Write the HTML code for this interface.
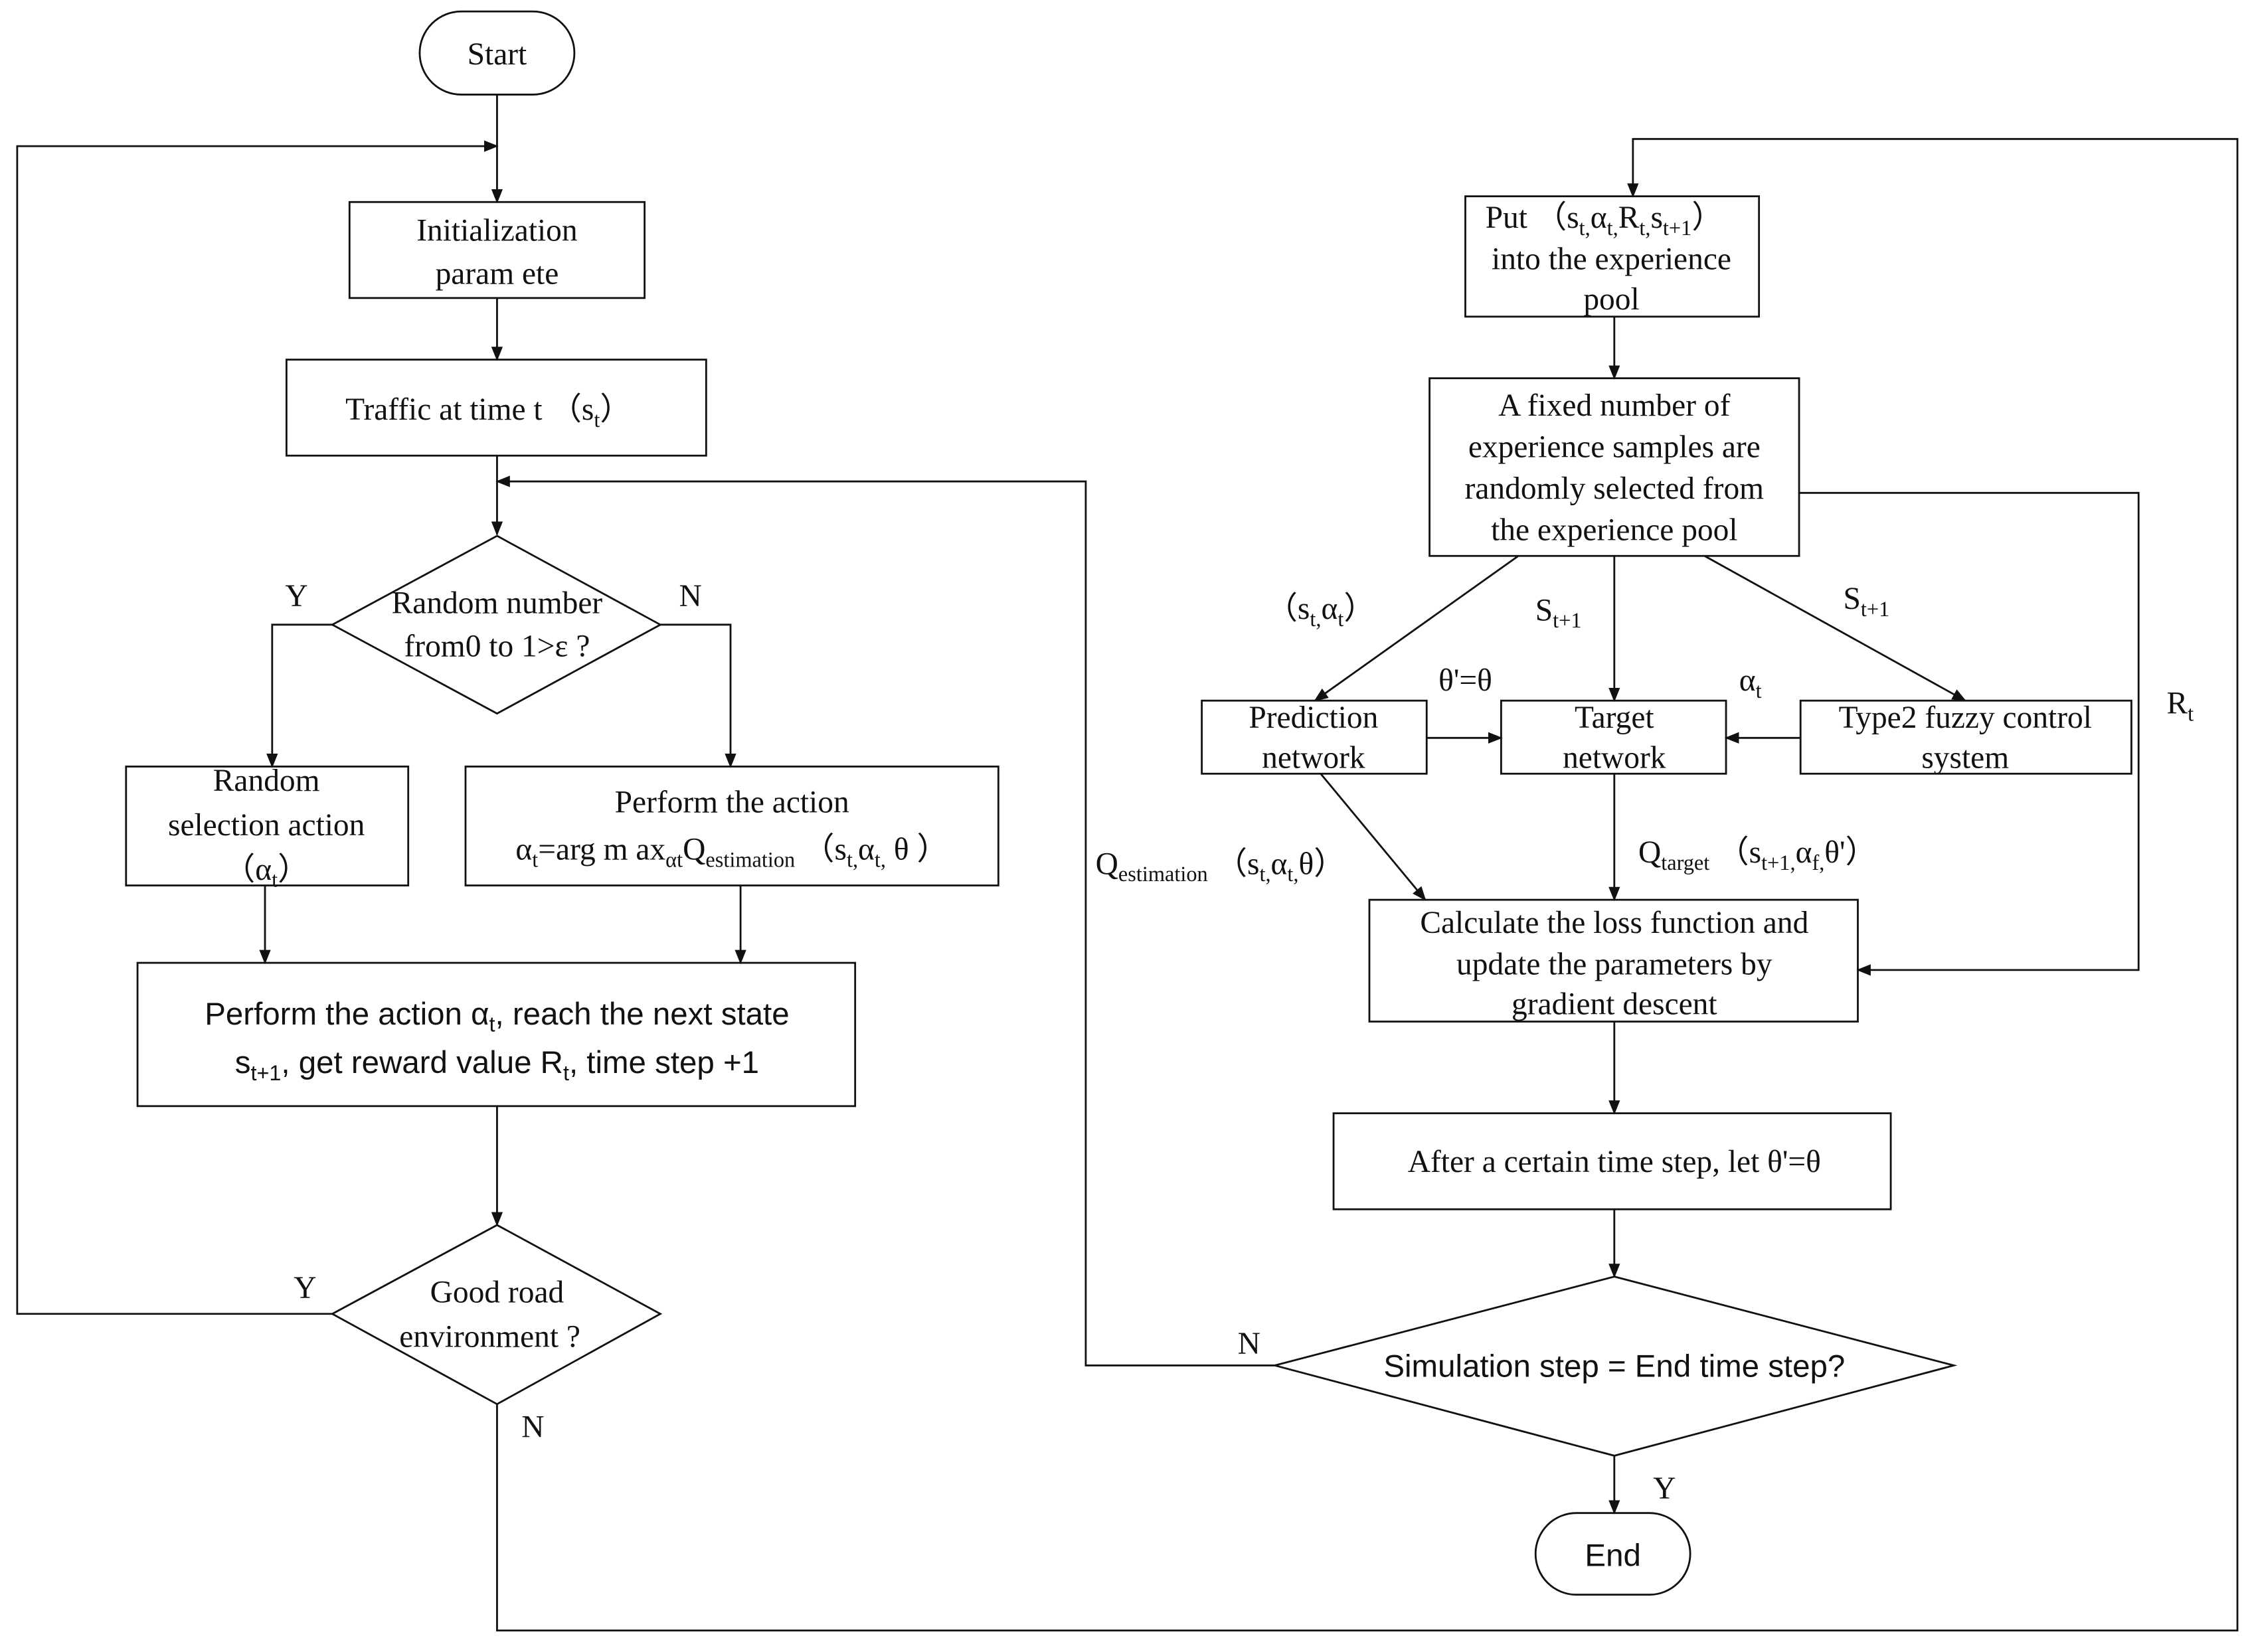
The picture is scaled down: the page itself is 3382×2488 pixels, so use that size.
<!DOCTYPE html>
<html><head><meta charset="utf-8"><style>
html,body{margin:0;padding:0;background:#fff;}
svg{display:block;}
text{font-family:"Liberation Serif",serif;font-size:22px;fill:#111;}
.s{font-family:"Liberation Sans",sans-serif;}
</style></head><body>
<svg width="3382" height="2488" viewBox="0 0 1568 1153" preserveAspectRatio="none" xmlns="http://www.w3.org/2000/svg">
<defs><marker id="a" markerWidth="10" markerHeight="10" refX="9" refY="5" orient="auto" markerUnits="userSpaceOnUse"><path d="M0,1 L10,5 L0,9 Z" fill="#111"/></marker></defs>
<g fill="none" stroke="#111" stroke-width="1.3">
<rect x="293" y="8" width="108" height="58" rx="29"/>
<line x1="347" y1="66" x2="347" y2="141" marker-end="url(#a)"/>
<polyline points="232,917 12,917 12,102 347,102" marker-end="url(#a)"/>
<rect x="244" y="141" width="206" height="67"/>
<line x1="347" y1="208" x2="347" y2="251" marker-end="url(#a)"/>
<rect x="200" y="251" width="293" height="67"/>
<line x1="347" y1="318" x2="347" y2="373" marker-end="url(#a)"/>
<polyline points="890,953 758,953 758,336 347,336" marker-end="url(#a)"/>
<polygon points="347,374 461,436 347,498 232,436"/>
<polyline points="232,436 190,436 190,535" marker-end="url(#a)"/>
<polyline points="461,436 510,436 510,535" marker-end="url(#a)"/>
<rect x="88" y="535" width="197" height="83"/>
<rect x="325" y="535" width="372" height="83"/>
<line x1="185" y1="618" x2="185" y2="672" marker-end="url(#a)"/>
<line x1="517" y1="618" x2="517" y2="672" marker-end="url(#a)"/>
<rect x="96" y="672" width="501" height="100"/>
<line x1="347" y1="772" x2="347" y2="855" marker-end="url(#a)"/>
<polygon points="347,855 461,917 347,980 232,917"/>
<polyline points="347,980 347,1138 1562,1138 1562,97 1140,97 1140,137" marker-end="url(#a)"/>
<rect x="1023" y="137" width="205" height="84"/>
<line x1="1127" y1="221" x2="1127" y2="264" marker-end="url(#a)"/>
<rect x="998" y="264" width="258" height="124"/>
<polyline points="1256,344 1493,344 1493,677 1297,677" marker-end="url(#a)"/>
<line x1="1060" y1="388" x2="918" y2="489" marker-end="url(#a)"/>
<line x1="1127" y1="388" x2="1127" y2="489" marker-end="url(#a)"/>
<line x1="1190" y1="388" x2="1372" y2="489" marker-end="url(#a)"/>
<rect x="839" y="489" width="157" height="51"/>
<rect x="1048" y="489" width="157" height="51"/>
<rect x="1257" y="489" width="231" height="51"/>
<line x1="996" y1="515" x2="1048" y2="515" marker-end="url(#a)"/>
<line x1="1257" y1="515" x2="1205" y2="515" marker-end="url(#a)"/>
<line x1="922" y1="540" x2="995" y2="628" marker-end="url(#a)"/>
<line x1="1127" y1="540" x2="1127" y2="628" marker-end="url(#a)"/>
<rect x="956" y="628" width="341" height="85"/>
<line x1="1127" y1="713" x2="1127" y2="777" marker-end="url(#a)"/>
<rect x="931" y="777" width="389" height="67"/>
<line x1="1127" y1="844" x2="1127" y2="891" marker-end="url(#a)"/>
<polygon points="1127,891 1364,953 1127,1016 890,953"/>
<line x1="1127" y1="1016" x2="1127" y2="1056" marker-end="url(#a)"/>
<rect x="1072" y="1056" width="108" height="57" rx="28.5"/>
</g>
<g text-anchor="middle">
<text x="347" y="45">Start</text>
<text x="347" y="168">Initialization</text>
<text x="347" y="198">param ete</text>
<text x="341" y="293">Traffic at time t （s<tspan font-size="15" dy="5">t</tspan><tspan dy="-5">）</tspan></text>
<text x="347" y="428" font-size="21">Random number</text>
<text x="347" y="458" font-size="21">from0 to 1&gt;ε ?</text>
<text x="207" y="423">Y</text>
<text x="482" y="423">N</text>
<text x="186" y="552">Random</text>
<text x="186" y="583">selection action</text>
<text x="186" y="614">（α<tspan font-size="15" dy="5">t</tspan><tspan dy="-5">）</tspan></text>
<text x="511" y="567">Perform the action</text>
<text x="511" y="600">α<tspan font-size="15" dy="5">t</tspan><tspan dy="-5">=arg m ax</tspan><tspan font-size="15" dy="5">αt</tspan><tspan dy="-5">Q</tspan><tspan font-size="15" dy="5">estimation</tspan><tspan dy="-5"> （s</tspan><tspan font-size="15" dy="5">t,</tspan><tspan dy="-5">α</tspan><tspan font-size="15" dy="5">t,</tspan><tspan dy="-5"> θ ）</tspan></text>
<text class="s" x="347" y="715">Perform the action α<tspan font-size="15" dy="5">t</tspan><tspan dy="-5">,  reach the next state</tspan></text>
<text class="s" x="347" y="749">s<tspan font-size="15" dy="5">t+1</tspan><tspan dy="-5">,  get reward value R</tspan><tspan font-size="15" dy="5">t</tspan><tspan dy="-5">,  time step +1</tspan></text>
<text x="347" y="909">Good road</text>
<text x="342" y="940">environment ?</text>
<text x="213" y="906">Y</text>
<text x="372" y="1003">N</text>
<text x="1120" y="159">Put （s<tspan font-size="15" dy="5">t,</tspan><tspan dy="-5">α</tspan><tspan font-size="15" dy="5">t,</tspan><tspan dy="-5">R</tspan><tspan font-size="15" dy="5">t,</tspan><tspan dy="-5">s</tspan><tspan font-size="15" dy="5">t+1</tspan><tspan dy="-5">）</tspan></text>
<text x="1125" y="188">into the experience</text>
<text x="1125" y="216">pool</text>
<text x="1127" y="290">A fixed number of</text>
<text x="1127" y="319">experience samples are</text>
<text x="1127" y="348">randomly selected from</text>
<text x="1127" y="377">the experience pool</text>
<text x="922" y="432">（s<tspan font-size="15" dy="5">t,</tspan><tspan dy="-5">α</tspan><tspan font-size="15" dy="5">t</tspan><tspan dy="-5">）</tspan></text>
<text x="1088" y="433">S<tspan font-size="15" dy="5">t+1</tspan></text>
<text x="1303" y="425">S<tspan font-size="15" dy="5">t+1</tspan></text>
<text x="1023" y="482">θ'=θ</text>
<text x="1222" y="482">α<tspan font-size="15" dy="5">t</tspan></text>
<text x="1522" y="498">R<tspan font-size="15" dy="5">t</tspan></text>
<text x="917" y="508">Prediction</text>
<text x="917" y="536">network</text>
<text x="1127" y="508">Target</text>
<text x="1127" y="536">network</text>
<text x="1372" y="508">Type2 fuzzy control</text>
<text x="1372" y="536">system</text>
<text x="852" y="610">Q<tspan font-size="15" dy="5">estimation</tspan><tspan dy="-5"> （s</tspan><tspan font-size="15" dy="5">t,</tspan><tspan dy="-5">α</tspan><tspan font-size="15" dy="5">t,</tspan><tspan dy="-5">θ）</tspan></text>
<text x="1227" y="602">Q<tspan font-size="15" dy="5">target</tspan><tspan dy="-5"> （s</tspan><tspan font-size="15" dy="5">t+1,</tspan><tspan dy="-5">α</tspan><tspan font-size="15" dy="5">f,</tspan><tspan dy="-5">θ'）</tspan></text>
<text x="1127" y="651">Calculate the loss function and</text>
<text x="1127" y="680">update the parameters by</text>
<text x="1127" y="708">gradient descent</text>
<text x="1127" y="818">After a certain time step, let θ'=θ</text>
<text class="s" x="1127" y="961" font-size="20">Simulation step = End time step?</text>
<text x="872" y="945">N</text>
<text x="1162" y="1046">Y</text>
<text class="s" x="1126" y="1093">End</text>
</g>
</svg>
</body></html>
